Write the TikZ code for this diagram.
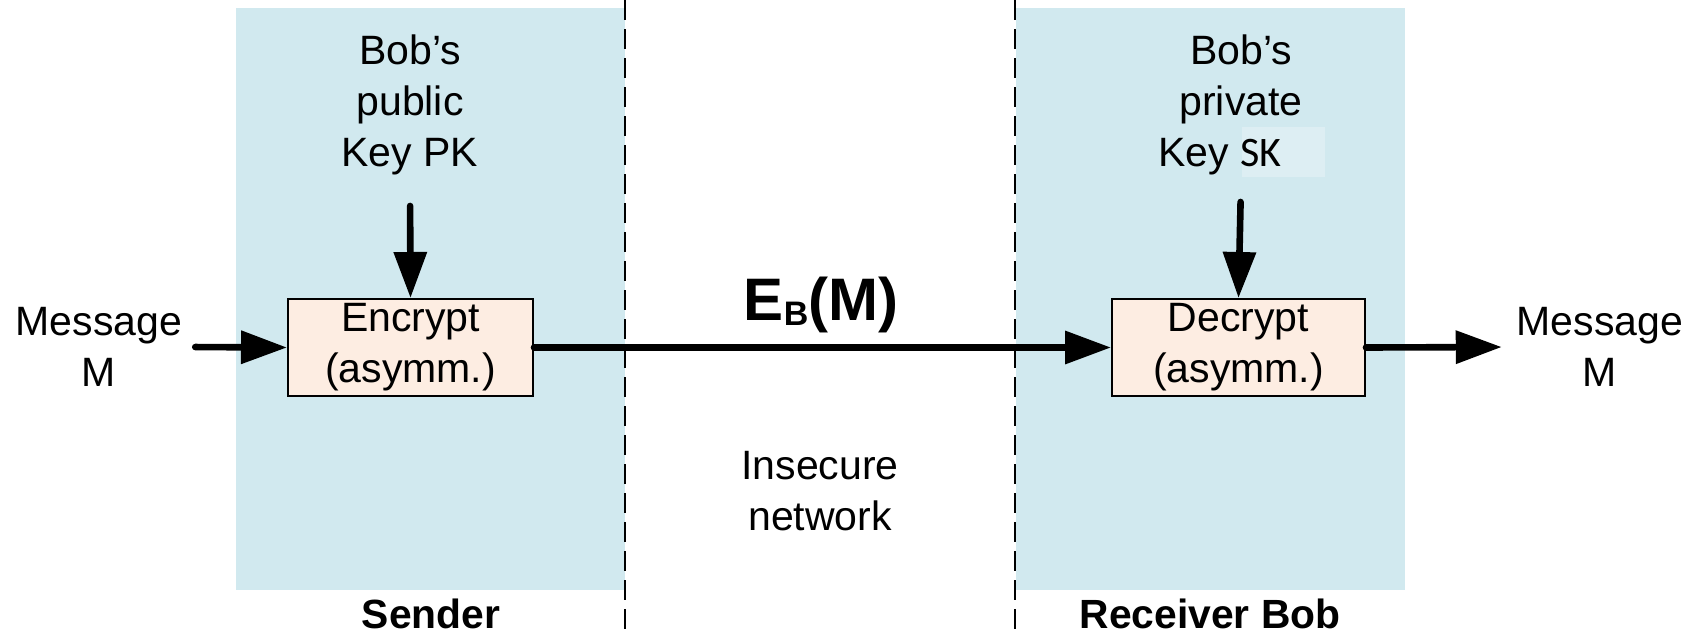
\documentclass[tikz,border=0pt]{standalone}
\usepackage{fontspec}
\setmainfont{Liberation Sans}
\newfontfamily\skfont{Carlito}
\usetikzlibrary{arrows.meta}

\definecolor{panelblue}{RGB}{209,233,239}
\definecolor{skblue}{RGB}{221,238,243}
\definecolor{boxpeach}{RGB}{253,237,226}

\tikzset{
  txt/.style={align=center, font=\fontsize{20.5}{25.4}\selectfont},
  lbl/.style={font=\bfseries\fontsize{20.4}{24}\selectfont},
  cryptbox/.style={draw=black, line width=1pt, fill=boxpeach, align=center,
    minimum height=48.5pt, inner sep=0pt, font=\fontsize{20.5}{25.4}\selectfont},
  arr/.style={line width=3.3pt, line cap=round, -{Triangle[length=23pt,width=16pt]}},
  sep/.style={line width=1pt, dash pattern=on 10pt off 4.5pt}
}

\begin{document}
\begin{tikzpicture}[x=0.5pt,y=-0.5pt]
\useasboundingbox (0,0) rectangle (1691,638);

% Sender and receiver areas
\fill[panelblue] (236,8) rectangle (625,590);
\fill[panelblue] (1016,8) rectangle (1405,590);
\fill[skblue] (1242,127) rectangle (1325,177);

% Dashed borders
\draw[sep] (625,0) -- (625,638);
\draw[sep] (1015,0) -- (1015,638);

% Boxes
\node[cryptbox, minimum width=122.5pt] (enc) at (410.5,347.5) {Encrypt\\(asymm.)};
\node[cryptbox, minimum width=126.5pt] (dec) at (1238.5,347.5) {Decrypt\\(asymm.)};

% Texts
\node[txt] (msgin) at (99,347) {Message\\M};
\node[txt] (msgout) at (1600,347) {Message\\M};
\node[txt] (pk) at (410,105) {Bob’s\\public\\Key PK};
\node[txt] (sk) at (1241,105) {Bob’s\\private\\Key \makebox[41.5pt][l]{\skfont\fontsize{21}{25.4}\selectfont SK}};
\node[font=\bfseries\fontsize{30}{36}\selectfont, anchor=base] (cipher) at (821,320)
  {E\raisebox{-2.7pt}{\fontsize{17}{20}\selectfont B}(M)};
\node[txt] (net) at (820,491) {Insecure\\network};
\node[lbl] (sender) at (431,614) {Sender};
\node[lbl] (receiver) at (1210,614) {Receiver Bob};

% Arrows
\draw[arr, shorten <=3pt] (msgin.east) -- (enc.west);
\draw[arr, shorten <=12pt] (pk.south) -- (enc.north);
\draw[arr] (enc.east) -- (dec.west);
\draw[arr, shorten <=10pt] (sk.south) -- (dec.north);
\draw[arr, shorten >=4pt] (dec.east) -- (msgout.west);
\end{tikzpicture}
\end{document}
